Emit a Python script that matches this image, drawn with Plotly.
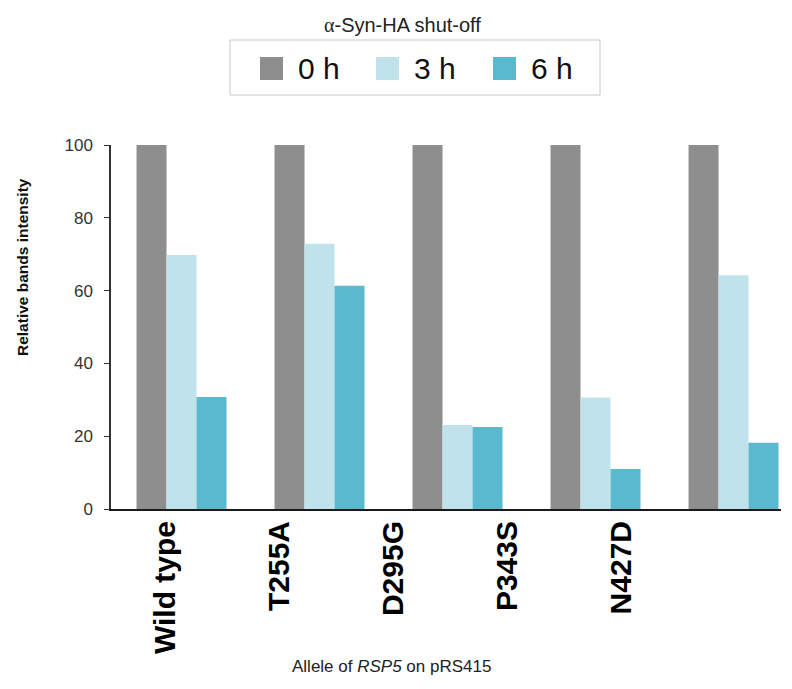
import plotly.graph_objects as go

categories = ["Wild type", "T255A", "D295G", "P343S", "N427D"]
series_names = ["0 h", "3 h", "6 h"]
values_0h = [100, 100, 100, 100, 100]
values_3h = [69.8, 72.9, 23.1, 30.6, 64.2]
values_6h = [30.8, 61.3, 22.5, 11.0, 18.2]
colors = ["#8e8e8e", "#c0e2eb", "#5ab8cf"]
y_ticks = [0, 20, 40, 60, 80, 100]

OFF = 8  # page body margin
W, H = 792 - OFF, 689 - OFF
L, R, T, B = 111 - OFF, 11, 145 - OFF, 180
pw = W - L - R
ph = H - T - B


def px(x):
    return (x - OFF - L) / pw


def py(y):
    return (H - B - (y - OFF)) / ph


FONT = "Arial, Liberation Sans, Helvetica, sans-serif"

fig = go.Figure()
for name, vals, col in zip(series_names, [values_0h, values_3h, values_6h], colors):
    fig.add_trace(go.Bar(x=categories, y=vals, name=name, marker=dict(color=col, line=dict(width=0)),
                         showlegend=False))

# carrier for the category labels axis
fig.add_trace(go.Scatter(x=categories, y=[None] * len(categories), xaxis="x2", mode="markers",
                         showlegend=False, hoverinfo="skip"))

shapes = []
annotations = []

# legend box
shapes.append(dict(type="rect", xref="paper", yref="paper", x0=px(230), x1=px(600), y0=py(95), y1=py(40),
                   line=dict(color="#c8c8c8", width=1), fillcolor="rgba(0,0,0,0)", layer="above"))
leg_sq_x = [260, 376, 493]
for name, col, sx in zip(series_names, colors, leg_sq_x):
    shapes.append(dict(type="rect", xref="paper", yref="paper", x0=px(sx), x1=px(sx + 23), y0=py(80), y1=py(57),
                       line=dict(width=0), fillcolor=col, layer="above"))
    annotations.append(dict(text=name, xref="paper", yref="paper", x=px(sx + 36), y=py(68.5), xanchor="left",
                            yanchor="middle", showarrow=False, font=dict(family=FONT, size=30, color="#111")))

annotations.append(dict(text="<span style='font-family:Liberation Serif, Times New Roman, serif'>α</span>-Syn-HA shut-off",
                        xref="paper", yref="paper", x=px(402), y=py(25), xanchor="center", yanchor="middle",
                        showarrow=False, font=dict(family=FONT, size=20, color="#222")))

annotations.append(dict(text="Relative bands intensity", xref="paper", yref="paper", x=px(22), y=py(267),
                        xanchor="center", yanchor="middle", textangle=-90, showarrow=False,
                        font=dict(family=FONT, size=15.5, color="#111", weight="bold")))

annotations.append(dict(text="Allele of <i>RSP5</i> on pRS415", xref="paper", yref="paper", x=px(391), y=py(666),
                        xanchor="center", yanchor="middle", showarrow=False,
                        font=dict(family=FONT, size=17, color="#222")))

fig.update_layout(
    width=W, height=H,
    margin=dict(l=L, r=R, t=T, b=B, pad=0),
    paper_bgcolor="white", plot_bgcolor="white",
    barmode="group", bargap=0.348, bargroupgap=0,
    showlegend=False,
    shapes=shapes, annotations=annotations,
    xaxis=dict(range=[-0.511, 4.344], showticklabels=False, ticks="", showline=True, linecolor="#1a1a1a",
               linewidth=2, showgrid=False, zeroline=False, fixedrange=True),
    xaxis2=dict(type="category", categoryorder="array", categoryarray=categories, overlaying="x", anchor="y",
                side="bottom", range=[-0.478, 5.399], showline=False, showgrid=False, zeroline=False, ticks="",
                tickangle=-90, ticklabelstandoff=5,
                tickfont=dict(family=FONT, size=30, color="#000", weight="bold")),
    yaxis=dict(range=[0, 100], tickvals=y_ticks, ticks="outside", ticklen=5, tickwidth=1, tickcolor="#333",
               showline=True, linecolor="#333", linewidth=1.5, showgrid=False, zeroline=False,
               tickfont=dict(family=FONT, size=17, color="#333"), ticklabelstandoff=8),
)

fig.write_html("out.html")
